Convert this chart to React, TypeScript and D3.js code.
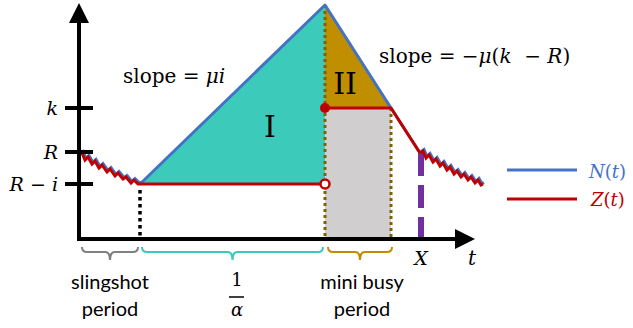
import React from "react";
import * as d3 from "d3";

// ---- data (time units along t, level units along the vertical axis) ----
const yTicks = [
  { label: "k", value: 131 },
  { label: "R", value: 87 },
  { label: "R − i", value: 55 },
];
const slingshotWiggle: [number, number][] = [
  [0, 84], [3, 86], [6, 79], [9, 82], [13, 75], [16, 78], [20, 71], [23, 74], [28, 67], [31, 70],
  [36, 63], [39, 66], [44, 60], [47, 62], [52, 56], [55, 59], [59, 55], [61, 55],
];
const tailWiggle: [number, number][] = [
  [341, 86], [344, 88], [347, 81], [350, 84], [354, 77], [357, 80], [361, 73], [364, 76], [368, 69],
  [371, 72], [375, 65], [378, 68], [382, 62], [385, 65], [389, 59], [392, 62], [396, 56], [399, 59], [402, 54], [404, 55],
];
const tStart = 61;      // end of slingshot
const tPeak = 246;      // end of 1/alpha
const tMiniEnd = 312;   // end of mini busy period
const tX = 342;         // X
const levelLow = 55;    // R - i
const levelPeak = 234;
const levelMini = 131;  // k
const levelX = 86;

const W = 633, H = 328;
const x = d3.scaleLinear().domain([0, 394]).range([79, 473]);
const y = d3.scaleLinear().domain([0, 234]).range([239, 5]);

const BLUE = "#4472C4";
const RED = "#C00000";
const TEAL = "#3CCBBA";
const GOLD = "#BF8F00";
const GREY = "#D0CECE";
const BROWN = "#806000";
const PURPLE = "#7030A0";

const mathFont = "DejaVu Serif";
const sans = "Lato";

function brace(x0: number, x1: number, yTop: number, depth: number) {
  const xm = (x0 + x1) / 2;
  const r = 5;
  const yMid = yTop + r;
  return `M${x0},${yTop} Q${x0},${yMid} ${x0 + r},${yMid} L${xm - r},${yMid} Q${xm},${yMid} ${xm},${yTop + depth} Q${xm},${yMid} ${xm + r},${yMid} L${x1 - r},${yMid} Q${x1},${yMid} ${x1},${yTop}`;
}

const mf = (size: number, extra: React.CSSProperties = {}): React.CSSProperties => ({ fontFamily: mathFont, fontSize: size, ...extra });
const sf = (size: number): React.CSSProperties => ({ fontFamily: sans, fontSize: size });

export default function App() {
  const line = d3.line<[number, number]>().x((d) => x(d[0])).y((d) => y(d[1]));
  const blueMain: [number, number][] = [[tStart, levelLow], [tPeak, levelPeak], [tMiniEnd, levelMini], [tX - 1, levelX]];
  const redMain: [number, number][] = [[tStart, levelLow], [tPeak, levelLow]];
  const redMini: [number, number][] = [[tPeak, levelMini], [tMiniEnd, levelMini], [tX - 1, levelX]];
  const triI: [number, number][] = [[tStart, levelLow], [tPeak, levelPeak], [tPeak, levelLow]];
  const triII: [number, number][] = [[tPeak, levelPeak], [tPeak, levelMini], [tMiniEnd, levelMini]];
  const poly = (pts: [number, number][]) => pts.map((p) => `${x(p[0])},${y(p[1])}`).join(" ");
  const it = { fontStyle: "italic" as const };

  return (
    <svg width={W} height={H} style={{ display: "block", position: "absolute", left: 0, top: 0 }}>
      <rect width={W} height={H} fill="#fff" />
      <defs>
        <marker id="arr" viewBox="0 0 10 10" refX="2" refY="5" markerWidth="5" markerHeight="5" orient="auto" markerUnits="strokeWidth">
          <path d="M0,0 L10,5 L0,10 z" fill="#000" />
        </marker>
      </defs>

      {/* regions */}
      <polygon points={poly(triI)} fill={TEAL} />
      <polygon points={poly(triII)} fill={GOLD} />
      <rect x={x(tPeak)} y={y(levelMini)} width={x(tMiniEnd) - x(tPeak)} height={y(0) - y(levelMini)} fill={GREY} />

      {/* dotted guides */}
      <line x1={x(tPeak)} x2={x(tPeak)} y1={y(levelPeak)} y2={y(0)} stroke={BROWN} strokeWidth={3} strokeDasharray="3 3" />
      <line x1={x(tMiniEnd)} x2={x(tMiniEnd)} y1={y(levelMini)} y2={y(0)} stroke={BROWN} strokeWidth={3} strokeDasharray="3 3" />
      <line x1={x(tStart)} x2={x(tStart)} y1={y(levelLow) + 6} y2={y(0)} stroke="#000" strokeWidth={3.5} strokeDasharray="3.5 3.5" />
      <line x1={x(tX)} x2={x(tX)} y1={y(levelX)} y2={y(0)} stroke={PURPLE} strokeWidth={6} strokeDasharray="23 9" />

      {/* N(t) blue */}
      <g transform="translate(1,-1.5)">
        <path d={line(slingshotWiggle)!} fill="none" stroke={BLUE} strokeWidth={3} />
        <path d={line(tailWiggle)!} fill="none" stroke={BLUE} strokeWidth={3} />
      </g>
      <path d={line(blueMain)!} fill="none" stroke={BLUE} strokeWidth={3} strokeLinejoin="round" />

      {/* Z(t) red */}
      <path d={line(slingshotWiggle)!} fill="none" stroke={RED} strokeWidth={3} />
      <path d={line(tailWiggle)!} fill="none" stroke={RED} strokeWidth={3} />
      <path d={line(redMain)!} fill="none" stroke={RED} strokeWidth={3} />
      <path d={line(redMini)!} fill="none" stroke={RED} strokeWidth={3} strokeLinejoin="round" />
      <circle cx={x(tPeak)} cy={y(levelMini)} r={5} fill={RED} />
      <circle cx={x(tPeak)} cy={y(levelLow)} r={4.5} fill="#fff" stroke={RED} strokeWidth={2.5} />

      {/* axes */}
      <line x1={x(0)} x2={x(0)} y1={y(0) + 2} y2={y(234) + 14} stroke="#000" strokeWidth={4} markerEnd="url(#arr)" />
      <line x1={x(0) - 2} x2={x(394) - 14} y1={y(0)} y2={y(0)} stroke="#000" strokeWidth={4} markerEnd="url(#arr)" />
      {yTicks.map((t) => (
        <g key={t.label}>
          <line x1={x(0) - 14} x2={x(0) + 14} y1={y(t.value)} y2={y(t.value)} stroke="#000" strokeWidth={4} />
          <text x={x(0) - 21} y={y(t.value) + 7} textAnchor="end" style={mf(19, it)}>
            {t.label === "R − i" ? (<><tspan>R</tspan><tspan style={{ fontStyle: "normal" }}>{"\u00a0−\u00a0"}</tspan><tspan>i</tspan></>) : t.label}
          </text>
        </g>
      ))}

      {/* annotations */}
      <text x={123} y={83} style={mf(20)}>{"slope = "}<tspan style={it}>μi</tspan></text>
      <text x={379} y={63} style={mf(20)}>{"slope = −"}<tspan style={it}>μ</tspan>(<tspan style={it}>k</tspan>{"\u00a0\u00a0−\u00a0"}<tspan style={it}>R</tspan>)</text>
      <text x={270} y={137} textAnchor="middle" style={mf(30)}>I</text>
      <text x={345} y={94} textAnchor="middle" style={mf(30)}>II</text>
      <text x={x(tX)} y={265} textAnchor="middle" style={mf(19, it)}>X</text>
      <text x={472} y={265} textAnchor="middle" style={mf(20, it)}>t</text>

      {/* braces */}
      <path d={brace(x(0) + 3, x(tStart) - 2, 247, 13)} fill="none" stroke="#808080" strokeWidth={2} />
      <path d={brace(x(tStart) + 2, x(tPeak) - 2, 247, 13)} fill="none" stroke={TEAL} strokeWidth={2} />
      <path d={brace(x(tPeak) + 3, x(tMiniEnd) + 1, 247, 13)} fill="none" stroke={GOLD} strokeWidth={2} />

      <text x={110} y={289} textAnchor="middle" style={sf(20)}>slingshot</text>
      <text x={110} y={316} textAnchor="middle" style={sf(20)}>period</text>
      <text x={237} y={286} textAnchor="middle" style={mf(18)}>1</text>
      <line x1={229} x2={244} y1={297} y2={297} stroke="#000" strokeWidth={1.5} />
      <text x={237} y={316} textAnchor="middle" style={mf(18, it)}>α</text>
      <text x={362} y={289} textAnchor="middle" style={sf(20)}>mini busy</text>
      <text x={362} y={316} textAnchor="middle" style={sf(20)}>period</text>

      {/* legend */}
      <line x1={507} x2={577} y1={170} y2={170} stroke={BLUE} strokeWidth={3} />
      <line x1={507} x2={577} y1={199} y2={199} stroke={RED} strokeWidth={3} />
      <text x={589} y={178} style={{ ...mf(18), fill: BLUE }}><tspan style={it}>N</tspan>(<tspan style={it}>t</tspan>)</text>
      <text x={591} y={206} style={{ ...mf(18), fill: RED }}><tspan style={it}>Z</tspan>(<tspan style={it}>t</tspan>)</text>
    </svg>
  );
}
